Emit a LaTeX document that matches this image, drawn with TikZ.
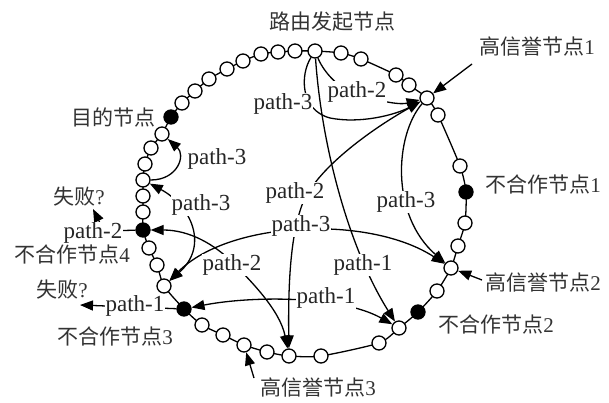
\documentclass[tikz,border=0pt]{standalone}
\usepackage{fontspec}
\setmainfont{Liberation Serif}
\newfontfamily\cjk{Noto Sans CJK SC}
\usetikzlibrary{arrows.meta,backgrounds}
\begin{document}
\begin{tikzpicture}[x=1pt,y=-1pt,
  ring/.style={circle,draw,line width=1.3pt,fill=white,minimum size=14pt,inner sep=0pt},
  bad/.style={ring,fill=black},
  conn/.style={line width=1.3pt},
  arr/.style={conn,-{Triangle[length=13pt,width=10pt]}},
  barr/.style={conn,{Triangle[length=13pt,width=10pt]}-{Triangle[length=13pt,width=10pt]}},
  plab/.style={font=\fontsize{23}{26}\selectfont,fill=white,inner sep=1pt,text=black!85},
  clab/.style={font=\fontsize{21}{24}\selectfont,inner sep=0pt,text=black!80},
]
\useasboundingbox (0,0) rectangle (609,403);
% ring nodes
\node[ring] (S) at (315,51) {};
\node[ring] (r1) at (341,53) {};
\node[ring] (r2) at (361,59) {};
\node[ring] (r3) at (396,75) {};
\node[ring] (r4) at (409,85) {};
\node[ring] (HR1) at (427,98) {};
\node[ring] (r5) at (438,115) {};
\node[ring] (r6) at (460,166) {};
\node[bad] (B1) at (466,192) {};
\node[ring] (r7) at (465,223) {};
\node[ring] (r8) at (458,246) {};
\node[ring] (HR2) at (451,268) {};
\node[ring] (r9) at (437,291) {};
\node[bad] (B2) at (418,312) {};
\node[ring] (r10) at (399,328) {};
\node[ring] (r11) at (379,343) {};
\node[ring] (r12) at (321,356) {};
\node[ring] (r13) at (289,356) {};
\node[ring] (r14) at (267,352) {};
\node[ring] (HR3) at (244,345) {};
\node[ring] (r15) at (223,335) {};
\node[ring] (r16) at (202,325) {};
\node[bad] (B3) at (184,309) {};
\node[ring] (r17) at (164,286) {};
\node[ring] (r18) at (157,265) {};
\node[ring] (r19) at (149,248) {};
\node[bad] (B4) at (143,230) {};
\node[ring] (r20) at (143,212) {};
\node[ring] (r21) at (143,196) {};
\node[ring] (r22) at (143,180) {};
\node[ring] (r23) at (145,164) {};
\node[ring] (r24) at (151,148) {};
\node[ring] (r25) at (162,134) {};
\node[bad] (D) at (171,117) {};
\node[ring] (l1) at (182,103) {};
\node[ring] (l2) at (195,91) {};
\node[ring] (l3) at (209,79) {};
\node[ring] (l4) at (227,69) {};
\node[ring] (l5) at (243,61) {};
\node[ring] (l6) at (261,54) {};
\node[ring] (l7) at (278,52) {};
\node[ring] (l8) at (295,51) {};
\begin{scope}[on background layer]
\draw[conn] plot[smooth cycle,tension=0.4] coordinates {(S) (r1) (r2) (r3) (r4) (HR1) (r5) (r6) (B1) (r7) (r8) (HR2) (r9) (B2) (r10) (r11) (r12) (r13) (r14) (HR3) (r15) (r16) (B3) (r17) (r18) (r19) (B4) (r20) (r21) (r22) (r23) (r24) (r25) (D) (l1) (l2) (l3) (l4) (l5) (l6) (l7) (l8)};
\end{scope}
% free ends
\coordinate (f1) at (80,305);
\coordinate (c2) at (104,231);
\coordinate (f2) at (93,209);
\coordinate (h1s) at (472,64);
\coordinate (h2s) at (482,280);
\coordinate (h3s) at (254,378);
% connectors
\draw[arr] (S) .. controls (300,75) and (300,110) .. (330,118) .. controls (360,124) and (395,115) .. (HR1);
\draw[arr] (S) .. controls (322,68) and (335,88) .. (360,96) .. controls (385,102) and (400,105) .. (HR1);
\draw[barr] (r13) .. controls (288,280) and (291,235) .. (302,205) .. controls (315,170) and (370,130) .. (HR1);
\draw[arr] (HR1) .. controls (395,135) and (390,215) .. (HR2);
\draw[barr] (r17) .. controls (230,220) and (370,215) .. (HR2);
\draw[barr] (r22) .. controls (190,205) and (210,245) .. (r17);
\draw[arr] (r22) .. controls (178,180) and (186,155) .. (r25);
\draw[barr] (B4) .. controls (190,230) and (215,245) .. (232,262) .. controls (250,280) and (280,310) .. (r13);
\draw[arr] (S) .. controls (322,150) and (350,250) .. (r10);
\draw[barr] (B3) .. controls (250,296) and (340,295) .. (r10);
\draw[arr] (B3) -- (f1);
\draw[arr] (B4) -- (c2) -- (f2);
\draw[arr] (h1s) -- (HR1);
\draw[arr] (h2s) -- (HR2);
\draw[arr] (h3s) -- (HR3);
% path labels
\node[plab] (pA) at (283,104) {path-3};
\node[plab] (pB) at (357,92) {path-2};
\node[plab] (pC) at (295,193) {path-2};
\node[plab] (pD) at (406,202) {path-3};
\node[plab] (pE) at (301,226) {path-3};
\node[plab] (pF) at (201,205) {path-3};
\node[plab] (pG) at (217,159) {path-3};
\node[plab] (pH) at (232,265) {path-2};
\node[plab] (pI) at (363,265) {path-1};
\node[plab] (pJ) at (326,298) {path-1};
\node[plab] (pK) at (135,306) {path-1};
\node[plab] (pL) at (93,233) {path-2};
% text labels
\node[clab] (tS) at (332,22) {{\cjk 路由发起节点}};
\node[clab] (tH1) at (537,47) {{\cjk 高信誉节点}1};
\node[clab] (tB1) at (543,184) {{\cjk 不合作节点}1};
\node[clab] (tH2) at (543,283) {{\cjk 高信誉节点}2};
\node[clab] (tB2) at (496,324) {{\cjk 不合作节点}2};
\node[clab] (tH3) at (318,388) {{\cjk 高信誉节点}3};
\node[clab] (tB3) at (115,336) {{\cjk 不合作节点}3};
\node[clab] (tF1) at (62,290) {{\cjk 失败}?};
\node[clab] (tB4) at (72,254) {{\cjk 不合作节点}4};
\node[clab] (tF2) at (79,197) {{\cjk 失败}?};
\node[clab,anchor=east] (tD) at (156,117) {{\cjk 目的节点}};
\end{tikzpicture}
\end{document}
